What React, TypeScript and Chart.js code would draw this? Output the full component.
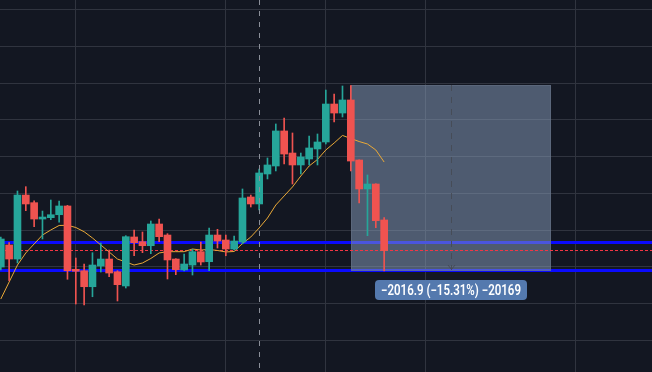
import React, { useEffect, useRef } from "react";
import { Chart, registerables } from "chart.js";

Chart.register(...registerables);

// ---- data ----
const OPEN = [11199, 11439, 11286, 11982, 11899, 11721, 11736, 11768, 11863, 11174, 11159, 10985, 11210, 11286, 11148, 10993, 11526, 11475, 11431, 11667, 11547, 11286, 11167, 11221, 11366, 11257, 11547, 11493, 11395, 11471, 11961, 11885, 12211, 12298, 12679, 12439, 12309, 12374, 12483, 12559, 12972, 12874, 13016, 12363, 12048, 12102, 11711];
const HIGH = [11526, 11464, 12026, 12073, 11920, 11808, 11928, 11917, 11870, 11297, 11232, 11355, 11460, 11384, 11159, 11540, 11602, 11580, 11700, 11721, 11562, 11290, 11341, 11392, 11471, 11624, 11609, 11547, 11537, 12048, 11982, 12265, 12385, 12755, 12820, 12657, 12439, 12624, 12646, 13124, 13081, 13168, 13173.4, 12365, 12200, 12105, 11736];
const LOW = [11167, 11050, 11243, 11812, 11638, 11504, 11714, 11686, 11066, 10797, 10786, 10876, 11145, 11094, 10830, 10971, 11322, 11355, 11344, 11475, 11069, 11116, 11156, 11112, 11221, 11159, 11406, 11322, 11384, 11450, 11852, 11819, 12157, 12244, 12320, 12102, 12211, 12309, 12309, 12537, 12776, 12831, 12244, 11896, 11540, 11627, 11156.5];
const CLOSE = [11504, 11286, 11982, 11885, 11721, 11743, 11768, 11863, 11159, 11153, 10985, 11221, 11286, 11134, 11007, 11529, 11464, 11431, 11667, 11529, 11276, 11170, 11232, 11366, 11254, 11547, 11482, 11395, 11482, 11950, 11885, 12222, 12309, 12679, 12428, 12309, 12396, 12494, 12559, 12972, 12874, 13016, 12352, 12048, 12102, 11703, 11377];
const MA = [10851, 11036, 11221, 11352, 11450, 11547, 11602, 11651, 11653, 11629, 11583, 11515, 11439, 11363, 11286, 11254, 11221, 11243, 11292, 11352, 11366, 11366, 11366, 11395, 11384, 11390, 11379, 11363, 11368, 11455, 11526, 11624, 11732, 11874, 11972, 12070, 12189, 12298, 12369, 12472, 12548, 12630, 12597, 12564, 12537, 12472, 12341];

const X_GRID = [9, 27, 39, 51, 69];
const Y_GRID = [10400, 10800, 11200, 11600, 12000, 12400, 12800, 13200, 13600, 14000];
const X_MIN = -0.096;
const X_MAX = 78.14;
const Y_MIN = 10057.4;
const Y_MAX = 14103.3;

const BLUE_LEVELS = [11468, 11163];
const RED_LEVEL = 11381;
const CROSSHAIR_X = 31;
const RANGE_START = 42;
const RANGE_END = 66;
const RANGE_HIGH = 13173.4;
const RANGE_LOW = 11156.5;
const RANGE_LABEL = "\u22122016.9 (\u221215.31%) \u221220169";

const UP = "#26a69a";
const DOWN = "#ef5350";
const BG = "#131722";
const GRID = "#30343f";

const overlay = {
  id: "overlay",
  beforeDraw(chart: any) {
    const { ctx, width, height } = chart;
    ctx.save();
    ctx.fillStyle = BG;
    ctx.fillRect(0, 0, width, height);
    ctx.restore();
  },
  beforeDatasetsDraw(chart: any) {
    const { ctx, chartArea, scales } = chart;
    const x = scales.x;
    const y = scales.y;
    ctx.save();
    // blue horizontal levels
    ctx.strokeStyle = "#0a0aff";
    ctx.lineWidth = 3;
    BLUE_LEVELS.forEach((v) => {
      const yy = Math.round(y.getPixelForValue(v)) + 0.5;
      ctx.beginPath();
      ctx.moveTo(chartArea.left, yy);
      ctx.lineTo(chartArea.right, yy);
      ctx.stroke();
    });
    // price range rectangle
    const x1 = Math.round(x.getPixelForValue(RANGE_START));
    const x2 = Math.round(x.getPixelForValue(RANGE_END));
    const y1 = Math.round(y.getPixelForValue(RANGE_HIGH));
    const y2 = Math.round(y.getPixelForValue(RANGE_LOW));
    ctx.fillStyle = "rgba(138,160,190,0.5)";
    ctx.fillRect(x1, y1, x2 - x1, y2 - y1);
    ctx.strokeStyle = "rgba(100,112,130,0.6)";
    ctx.lineWidth = 1;
    ctx.strokeRect(x1 + 0.5, y1 + 0.5, x2 - x1 - 1, y2 - y1 - 1);
    // center dashed arrow line
    const cx = Math.round((x1 + x2) / 2) + 0.5;
    ctx.strokeStyle = "rgba(70,74,84,0.9)";
    ctx.setLineDash([6, 6]);
    ctx.beginPath();
    ctx.moveTo(cx, y1);
    ctx.lineTo(cx, y2 - 1);
    ctx.stroke();
    ctx.setLineDash([]);
    ctx.beginPath();
    ctx.moveTo(cx - 3.5, y2 - 6);
    ctx.lineTo(cx, y2 - 1.5);
    ctx.lineTo(cx + 3.5, y2 - 6);
    ctx.stroke();
    // red dashed level
    ctx.strokeStyle = "#f23645";
    ctx.lineWidth = 1;
    ctx.setLineDash([3, 2]);
    const ry = Math.round(y.getPixelForValue(RED_LEVEL)) + 0.5;
    ctx.beginPath();
    ctx.moveTo(chartArea.left, ry);
    ctx.lineTo(chartArea.right, ry);
    ctx.stroke();
    ctx.restore();
  },
  afterDatasetsDraw(chart: any) {
    const { ctx, chartArea, scales } = chart;
    const x = scales.x;
    const y = scales.y;
    ctx.save();
    // crosshair
    const chx = Math.round(x.getPixelForValue(CROSSHAIR_X)) + 0.5;
    ctx.strokeStyle = "#8b8f99";
    ctx.lineWidth = 1;
    ctx.setLineDash([5, 6]);
    ctx.beginPath();
    ctx.moveTo(chx, chartArea.top);
    ctx.lineTo(chx, chartArea.bottom);
    ctx.stroke();
    ctx.setLineDash([]);
    // label
    const x1 = x.getPixelForValue(RANGE_START);
    const x2 = x.getPixelForValue(RANGE_END);
    const y2 = y.getPixelForValue(RANGE_LOW);
    const cx = (x1 + x2) / 2;
    const w = 152;
    const h = 20;
    const bx = Math.round(cx - w / 2);
    const by = Math.round(y2 + 9);
    ctx.fillStyle = "#5479ae";
    ctx.beginPath();
    (ctx as any).roundRect(bx, by, w, h, 4);
    ctx.fill();
    ctx.fillStyle = "#ffffff";
    ctx.font = "600 14px Roboto, 'Liberation Sans', sans-serif";
    ctx.textAlign = "center";
    ctx.textBaseline = "middle";
    ctx.fillText(RANGE_LABEL, bx + w / 2, by + h / 2 + 1, 140);
    ctx.restore();
  },
};

export default function App() {
  const ref = useRef<HTMLCanvasElement | null>(null);
  useEffect(() => {
    document.body.style.margin = "0";
    document.body.style.background = BG;
    const idx = OPEN.map((_, i) => i);
    const colors = idx.map((i) => (CLOSE[i] >= OPEN[i] ? UP : DOWN));
    const chart = new Chart(ref.current as HTMLCanvasElement, {
      type: "bar",
      data: {
        datasets: [
          {
            type: "bar",
            data: idx.map((i) => ({ x: i, y: [OPEN[i], CLOSE[i]] })) as any,
            backgroundColor: colors,
            borderWidth: 0,
            barThickness: 7,
            minBarLength: 1,
            grouped: false,
          } as any,
          {
            type: "bar",
            data: idx.map((i) => ({ x: i, y: [LOW[i], HIGH[i]] })) as any,
            backgroundColor: colors,
            borderWidth: 0,
            barThickness: 1,
            grouped: false,
          } as any,
          {
            type: "line",
            data: idx.map((i) => ({ x: i, y: MA[i] })) as any,
            borderColor: "#eaa937",
            borderWidth: 1,
            pointRadius: 0,
            tension: 0,
          } as any,
        ],
      },
      options: {
        animation: false,
        responsive: false,
        maintainAspectRatio: false,
        layout: { padding: 0 },
        plugins: { legend: { display: false }, tooltip: { enabled: false } },
        events: [],
        scales: {
          x: {
            type: "linear",
            min: X_MIN,
            max: X_MAX,
            offset: false,
            afterBuildTicks: (s: any) => {
              s.ticks = X_GRID.map((v) => ({ value: v }));
            },
            grid: { color: GRID, drawTicks: false, offset: false },
            ticks: { display: false },
            border: { display: false },
          },
          y: {
            type: "linear",
            min: Y_MIN,
            max: Y_MAX,
            afterBuildTicks: (s: any) => {
              s.ticks = Y_GRID.map((v) => ({ value: v }));
            },
            grid: { color: GRID, drawTicks: false },
            ticks: { display: false },
            border: { display: false },
          },
        },
      } as any,
      plugins: [overlay],
    });
    return () => chart.destroy();
  }, []);
  return (
    <div style={{ position: "absolute", left: 0, top: 0, width: 652, height: 372 }}>
      <canvas ref={ref} width={652} height={372} style={{ display: "block" }} />
    </div>
  );
}
